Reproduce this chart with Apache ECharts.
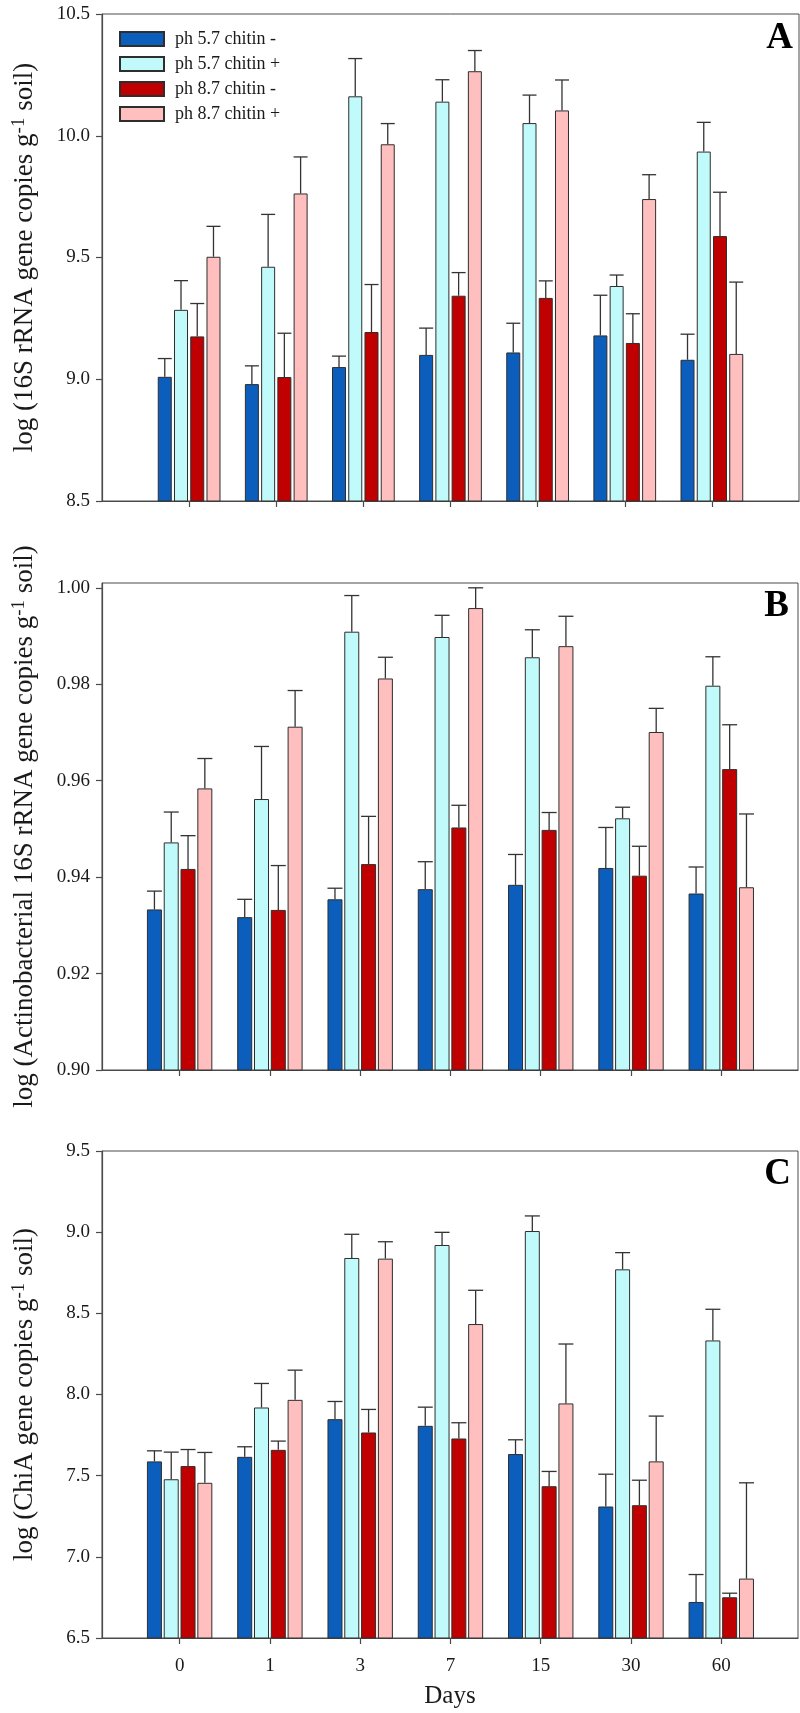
<!DOCTYPE html>
<html>
<head>
<meta charset="utf-8">
<script src="https://cdn.jsdelivr.net/npm/echarts@6/dist/echarts.min.js"></script>
<style>html,body{margin:0;padding:0;background:#fff}#c{width:800px;height:1713px}</style>
</head>
<body>
<div id="c"></div>
<script>
// ---------- data ----------
const days = ['0', '1', '3', '7', '15', '30', '60'];
const seriesNames = ['ph 5.7 chitin -', 'ph 5.7 chitin +', 'ph 8.7 chitin -', 'ph 8.7 chitin +'];
const colors = ['#0b5ebc', '#c0fafa', '#c00000', '#ffbfbf'];

// Panel A: log (16S rRNA gene copies g-1 soil)
const meansA = [
  [9.01, 8.98, 9.05, 9.10, 9.11, 9.18, 9.08],
  [9.285, 9.462, 10.162, 10.140, 10.052, 9.383, 9.935],
  [9.176, 9.009, 9.194, 9.343, 9.334, 9.149, 9.588],
  [9.503, 9.763, 9.965, 10.265, 10.104, 9.740, 9.104]
];
const errA = [
  [0.075, 0.075, 0.045, 0.11, 0.12, 0.165, 0.105],
  [0.12, 0.215, 0.155, 0.09, 0.115, 0.045, 0.12],
  [0.135, 0.18, 0.195, 0.095, 0.07, 0.12, 0.18],
  [0.125, 0.15, 0.085, 0.085, 0.125, 0.1, 0.295]
];
const ticksA = [8.5, 9.0, 9.5, 10.0, 10.5];

// Panel B: log (Actinobacterial 16S rRNA gene copies g-1 soil)
const meansB = [
  [0.9333, 0.9317, 0.9354, 0.9375, 0.9384, 0.9419, 0.9366],
  [0.9472, 0.9562, 0.9909, 0.9898, 0.9856, 0.9522, 0.9797],
  [0.9417, 0.9332, 0.9427, 0.9503, 0.9498, 0.9403, 0.9624],
  [0.9584, 0.9712, 0.9812, 0.9958, 0.9879, 0.9701, 0.9379]
];
const errB = [
  [0.0038, 0.0037, 0.0023, 0.0057, 0.0063, 0.0084, 0.0055],
  [0.0063, 0.0109, 0.0075, 0.0045, 0.0057, 0.0023, 0.0060],
  [0.0069, 0.0092, 0.0099, 0.0046, 0.0036, 0.0061, 0.0092],
  [0.0062, 0.0075, 0.0044, 0.0042, 0.0062, 0.0049, 0.0152]
];
const ticksB = [0.90, 0.92, 0.94, 0.96, 0.98, 1.00];

// Panel C: log (ChiA gene copies g-1 soil)
const meansC = [
  [7.588, 7.616, 7.848, 7.807, 7.633, 7.310, 6.722],
  [7.478, 7.920, 8.841, 8.921, 9.007, 8.771, 8.333],
  [7.559, 7.659, 7.766, 7.729, 7.435, 7.318, 6.751],
  [7.456, 7.967, 8.837, 8.434, 7.945, 7.588, 6.866]
];
const errC = [
  [0.065, 0.062, 0.109, 0.115, 0.088, 0.199, 0.169],
  [0.167, 0.148, 0.146, 0.078, 0.093, 0.103, 0.192],
  [0.102, 0.054, 0.142, 0.097, 0.091, 0.154, 0.025],
  [0.187, 0.183, 0.104, 0.208, 0.366, 0.279, 0.590]
];
const ticksC = [6.5, 7.0, 7.5, 8.0, 8.5, 9.0, 9.5];

// ---------- style ----------
const FONT = "'Liberation Serif', 'Times New Roman', serif";
const AX = '#4a4a4a';
const TXT = '#1a1a1a';
const dayIdx = days.map((d, i) => i);

const panels = [
  { means: meansA, errs: errA, ticks: ticksA, top: 14, bottom: 1212, left: 102, right: 1,
    xmin: -1, xmax: 7, ymin: 8.5, ymax: 10.5, dec: 1, barW: 14, gapPct: 16, cap: 7,
    title: 'log (16S rRNA gene copies g{sup|-1} soil)', letter: 'A', letterTop: 20, letterRight: 7 },
  { means: meansB, errs: errB, ticks: ticksB, top: 583, bottom: 643, left: 102, right: 2,
    xmin: -0.86, xmax: 6.85, ymin: 0.90, ymax: 1.001, dec: 2, barW: 15, gapPct: 12, cap: 7.5,
    title: 'log (Actinobacterial 16S rRNA gene copies g{sup|-1} soil)', letter: 'B', letterTop: 588, letterRight: 11 },
  { means: meansC, errs: errC, ticks: ticksC, top: 1151, bottom: 75, left: 102, right: 2,
    xmin: -0.86, xmax: 6.85, ymin: 6.5, ymax: 9.5, dec: 1, barW: 15, gapPct: 12, cap: 7.5,
    title: 'log (ChiA gene copies g{sup|-1} soil)', letter: 'C', letterTop: 1156, letterRight: 9, showX: true }
];

const grid = [], xAxis = [], yAxis = [], series = [], title = [];
panels.forEach((p, gi) => {
  grid.push({ top: p.top, bottom: p.bottom, left: p.left, right: p.right, show: true,
    borderColor: AX, borderWidth: 1, backgroundColor: 'transparent' });
  xAxis.push({ type: 'value', gridIndex: gi, min: p.xmin, max: p.xmax,
    name: p.showX ? 'Days' : '', nameLocation: 'middle', nameGap: 46,
    nameTextStyle: { fontFamily: FONT, fontSize: 25, color: TXT },
    axisLine: { show: true, onZero: false, lineStyle: { color: AX, width: 1.2 } },
    axisTick: { show: true, length: 6, customValues: dayIdx, lineStyle: { color: AX, width: 1.2 } },
    axisLabel: { show: !!p.showX, customValues: dayIdx, margin: 19, fontFamily: FONT, fontSize: 19, color: TXT,
      formatter: v => days[Math.round(v)] },
    splitLine: { show: false } });
  yAxis.push({ type: 'value', gridIndex: gi, min: p.ymin, max: p.ymax,
    name: p.title, nameLocation: 'middle', nameRotate: 90, nameGap: 62,
    nameTextStyle: { fontFamily: FONT, fontSize: 27, color: TXT,
      rich: { sup: { fontFamily: FONT, fontSize: 19, color: TXT, verticalAlign: 'top', padding: [0, 0, 11, 0] } } },
    axisLine: { show: true, onZero: false, lineStyle: { color: AX, width: 1.2 } },
    axisTick: { show: true, length: 6, customValues: p.ticks, lineStyle: { color: AX, width: 1.2 } },
    axisLabel: { customValues: p.ticks, margin: 12, fontFamily: FONT, fontSize: 19, color: TXT,
      formatter: v => Number(v).toFixed(p.dec) },
    splitLine: { show: false } });
  const pitch = p.barW * (1 + p.gapPct / 100);
  p.means.forEach((arr, k) => {
    series.push({ type: 'bar', name: seriesNames[k], xAxisIndex: gi, yAxisIndex: gi,
      barWidth: p.barW, barGap: p.gapPct + '%',
      itemStyle: { color: colors[k], borderColor: '#2e2e2e', borderWidth: 1 },
      data: arr.map((v, i) => [i, v]), z: 2, silent: true });
  });
  p.means.forEach((arr, k) => {
    series.push({ type: 'custom', xAxisIndex: gi, yAxisIndex: gi, z: 3, silent: true, clip: false,
      encode: { x: 0, y: 1 },
      data: arr.map((v, i) => [i, v, p.errs[k][i]]),
      renderItem: (params, api) => {
        const x = api.value(0), m = api.value(1), e = api.value(2);
        const p0 = api.coord([x, m]);
        const p1 = api.coord([x, m + e]);
        const cx = p0[0] + (k - 1.5) * pitch;
        const st = { stroke: '#333', lineWidth: 1.3 };
        return { type: 'group', children: [
          { type: 'line', shape: { x1: cx, y1: p0[1], x2: cx, y2: p1[1] }, style: st },
          { type: 'line', shape: { x1: cx - p.cap, y1: p1[1], x2: cx + p.cap, y2: p1[1] }, style: st }
        ] };
      } });
  });
  title.push({ text: p.letter, right: p.letterRight, top: p.letterTop, padding: 0,
    textStyle: { fontFamily: FONT, fontSize: 37, fontWeight: 'bold', color: '#000' } });
});

const chart = echarts.init(document.getElementById('c'), null, { renderer: 'canvas' });
chart.setOption({
  animation: false,
  backgroundColor: '#fff',
  title: title,
  legend: { data: seriesNames, orient: 'vertical', left: 119, top: 30, padding: 0,
    itemWidth: 44, itemHeight: 14, itemGap: 7, icon: 'rect',
    textStyle: { fontFamily: FONT, fontSize: 18, color: TXT, padding: [0, 0, 0, 6] } },
  grid: grid, xAxis: xAxis, yAxis: yAxis, series: series
});
</script>
</body>
</html>
